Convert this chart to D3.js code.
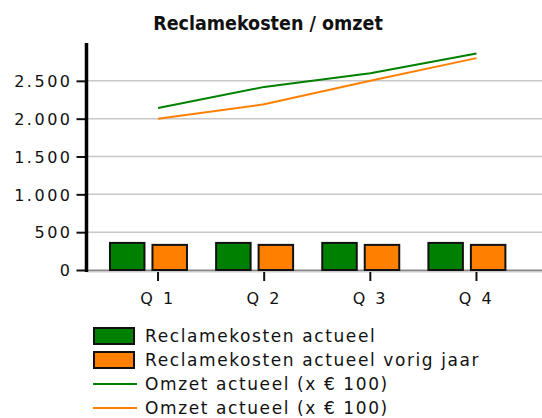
<!DOCTYPE html>
<html lang="nl">
<head>
    <meta charset="UTF-8">
    <title>Reclamekosten / omzet</title>
    <script src="https://d3js.org/d3.v7.min.js"></script>
    <style type="text/css">
        body { margin: 0; background: #fff; }
        text { font-family: "DejaVu Sans", Verdana, sans-serif; fill: #111; }
        .title { font-family: "DejaVu Sans Condensed", "DejaVu Sans", sans-serif; font-size: 19.5px; font-weight: bold; text-anchor: middle; }
        .tick-label { font-size: 16px; letter-spacing: 2.5px; }
        .legend-label { font-size: 17px; letter-spacing: 1.6px; }
        .grid { stroke: #c8c8c8; stroke-width: 1.5px; }
    </style>
</head>
<body>
<script type="text/javascript">
    // DATA
    const quarters = ["Q 1", "Q 2", "Q 3", "Q 4"];
    const reclameActueel = [358, 358, 358, 358];
    const reclameVorigJaar = [332, 332, 332, 332];
    const omzetActueel = [2140, 2420, 2600, 2860];
    const omzetVorigJaar = [2000, 2190, 2500, 2800];
    const yTicks = [0, 500, 1000, 1500, 2000, 2500];
    const legendNames = ["Reclamekosten actueel", "Reclamekosten actueel vorig jaar",
                         "Omzet actueel (x € 100)", "Omzet actueel (x € 100)"];

    const width = 542, height = 418;
    const axisX = 86.5;
    const green = "#008000", orange = "#ff8000";

    const svg = d3.select("body").append("svg")
        .attr("width", width)
        .attr("height", height);

    // SCALES
    const x = d3.scaleBand()
        .domain(quarters)
        .range([axisX, 548])
        .paddingInner(0)
        .paddingOuter(0.174);

    const xSub = d3.scaleBand()
        .domain(["actueel", "vorig"])
        .range([5, 82])
        .paddingInner(0.188);

    const y = d3.scaleLinear()
        .domain([0, 3000])
        .range([270, 43]);

    // GRIDLINES
    svg.append("g").selectAll("line")
        .data(yTicks.filter(d => d > 0))
        .join("line")
        .attr("class", "grid")
        .attr("x1", axisX).attr("x2", width)
        .attr("y1", d => y(d)).attr("y2", d => y(d));

    // zero line
    svg.append("line")
        .attr("x1", axisX).attr("x2", width)
        .attr("y1", y(0) + 0.5).attr("y2", y(0) + 0.5)
        .attr("stroke", "#888").attr("stroke-width", 2);
    svg.append("line")
        .attr("x1", axisX).attr("x2", width)
        .attr("y1", y(0) + 2).attr("y2", y(0) + 2)
        .attr("stroke", "#d0d0d0").attr("stroke-width", 1);

    // BARS
    const groups = svg.append("g").selectAll("g")
        .data(quarters)
        .join("g")
        .attr("transform", d => "translate(" + x(d) + ",0)");

    groups.append("rect")
        .attr("x", xSub("actueel"))
        .attr("width", xSub.bandwidth())
        .attr("y", (d, i) => y(reclameActueel[i]))
        .attr("height", (d, i) => y(0) - y(reclameActueel[i]))
        .attr("fill", green).attr("stroke", "#111").attr("stroke-width", 2);

    groups.append("rect")
        .attr("x", xSub("vorig"))
        .attr("width", xSub.bandwidth())
        .attr("y", (d, i) => y(reclameVorigJaar[i]))
        .attr("height", (d, i) => y(0) - y(reclameVorigJaar[i]))
        .attr("fill", orange).attr("stroke", "#111").attr("stroke-width", 2);

    // LINES
    const line = d3.line()
        .x((d, i) => x(quarters[i]) + x.bandwidth() / 2)
        .y(d => y(d));

    svg.append("path")
        .attr("d", line(omzetVorigJaar))
        .attr("fill", "none").attr("stroke", orange).attr("stroke-width", 2);
    svg.append("path")
        .attr("d", line(omzetActueel))
        .attr("fill", "none").attr("stroke", green).attr("stroke-width", 2);

    // Y AXIS
    const yAxis = d3.axisLeft(y).tickValues(yTicks).tickSize(10).tickPadding(4)
        .tickFormat(d => d3.format(",")(d).replace(/,/g, "."));
    const yg = svg.append("g")
        .attr("transform", "translate(" + axisX + ",0)")
        .call(yAxis);
    yg.select(".domain").remove();
    yg.selectAll(".tick line").attr("stroke", "#111").attr("stroke-width", 2);
    yg.selectAll(".tick text").attr("class", "tick-label").attr("fill", "#111")
        .attr("font-size", null).attr("font-family", null).attr("dy", "0.36em");
    svg.append("line")
        .attr("x1", axisX).attr("x2", axisX)
        .attr("y1", 43).attr("y2", 272)
        .attr("stroke", "#000").attr("stroke-width", 3.5);

    // X AXIS
    const xAxis = d3.axisBottom(x).tickSize(9).tickPadding(6);
    const xg = svg.append("g")
        .attr("transform", "translate(0," + (y(0) + 2) + ")")
        .call(xAxis);
    xg.select(".domain").remove();
    xg.selectAll(".tick line").attr("stroke", "#111").attr("stroke-width", 2);
    xg.selectAll(".tick text").attr("class", "tick-label").attr("fill", "#111")
        .attr("font-size", null).attr("font-family", null).attr("dy", "1.05em");

    // TITLE
    svg.append("text")
        .attr("class", "title")
        .attr("x", 268).attr("y", 30)
        .text("Reclamekosten / omzet");

    // LEGEND
    const legendColors = [green, orange, green, orange];
    const legend = svg.append("g").selectAll("g")
        .data(legendNames)
        .join("g")
        .attr("transform", (d, i) => "translate(93," + (336 + i * 24) + ")");

    legend.filter((d, i) => i < 2).append("rect")
        .attr("x", 1).attr("y", -8).attr("width", 40).attr("height", 16)
        .attr("fill", (d, i) => legendColors[i])
        .attr("stroke", "#111").attr("stroke-width", 2);
    legend.filter((d, i) => i >= 2).append("line")
        .attr("x1", 0).attr("x2", 44).attr("y1", 0).attr("y2", 0)
        .attr("stroke", (d, i) => legendColors[i + 2]).attr("stroke-width", 2);

    legend.append("text")
        .attr("class", "legend-label")
        .attr("x", 52).attr("dy", "0.36em")
        .text(d => d);
</script>
</body>
</html>
